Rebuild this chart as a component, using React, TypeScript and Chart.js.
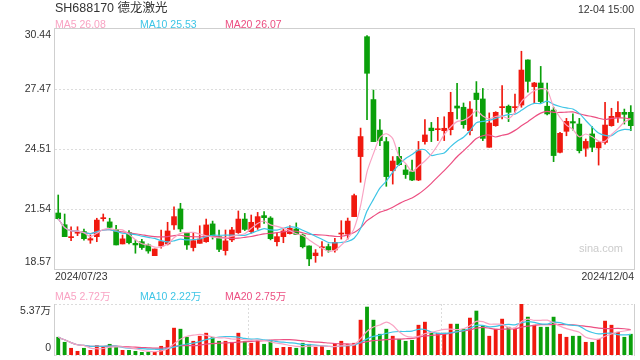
import React, { useEffect, useRef } from 'react';
import { Chart, registerables } from 'chart.js';

Chart.register(...registerables);

// ---- data ----
const tradingDays: [string, number[]][] = [
  ['2024/07', [23, 24, 25, 26, 29, 30, 31]],
  ['2024/08', [1, 2, 5, 6, 7, 8, 9, 12, 13, 14, 15, 16, 19, 20, 21, 22, 23, 26, 27, 28, 29, 30]],
  ['2024/09', [2, 3, 4, 5, 6, 9, 10, 11, 12, 13, 18, 19, 20, 23, 24, 25, 26, 27, 30]],
  ['2024/10', [8, 9, 10, 11, 14, 15, 16, 17, 18, 21, 22, 23, 24, 25, 28, 29, 30, 31]],
  ['2024/11', [1, 4, 5, 6, 7, 8, 11, 12, 13, 14, 15, 18, 19, 20, 21, 22, 25, 26, 27, 28, 29]],
  ['2024/12', [2, 3, 4]],
];
const dates: string[] = tradingDays.flatMap(([m, ds]) => ds.map((d) => `${m}/${String(d).padStart(2, '0')}`));

const opens = [
  21.34, 20.76, 20.12, 20.34, 20.42, 20.0, 20.17, 21.06, 20.9, 20.53,
  19.81, 20.37, 19.84, 19.92, 19.76, 19.23, 19.71, 19.81, 20.75, 21.54,
  20.37, 19.63, 19.84, 19.92, 20.8, 20.17, 19.48, 20.01, 20.37, 21.04,
  20.42, 20.63, 21.21, 21.09, 19.92, 20.17, 20.32, 20.55, 20.25, 19.71,
  19.23, 19.62, 19.68, 19.51, 20.3, 20.3, 21.16, 24.13, 30.06, 26.95,
  25.44, 24.87, 23.43, 24.14, 23.47, 23.38, 22.97, 24.87, 25.54, 25.46,
  25.41, 25.46, 26.63, 26.57, 25.41, 27.27, 26.98, 24.59, 25.66, 26.55,
  26.62, 26.55, 26.68, 28.91, 27.59, 27.77, 26.62, 26.43, 24.34, 25.38,
  25.86, 25.74, 24.54, 25.25, 24.56, 24.83, 25.66, 26.07, 26.32, 26.32,
];
const highs = [
  22.23, 21.29, 20.66, 20.66, 20.55, 20.25, 21.08, 21.29, 21.08, 20.73,
  20.25, 20.47, 20.01, 20.04, 19.81, 19.56, 20.5, 20.88, 21.65, 21.82,
  20.37, 20.37, 20.71, 21.04, 20.94, 20.5, 20.5, 20.63, 21.44, 21.32,
  21.24, 21.37, 21.41, 21.16, 20.34, 20.58, 20.71, 20.85, 20.3, 19.71,
  19.53, 19.92, 19.81, 20.09, 20.96, 21.09, 22.28, 25.54, 30.11, 27.42,
  25.96, 25.08, 24.13, 24.59, 23.71, 23.96, 24.88, 25.96, 25.82, 26.07,
  26.1, 27.31, 27.75, 26.78, 26.85, 27.84, 27.5, 26.29, 26.35, 27.64,
  26.68, 27.22, 29.34, 28.91, 27.8, 28.59, 27.77, 26.57, 25.33, 26.02,
  26.24, 26.02, 25.0, 25.61, 24.87, 26.81, 26.52, 26.85, 26.48, 26.65,
];
const lows = [
  21.04, 20.17, 19.97, 20.22, 19.99, 19.84, 19.92, 20.94, 20.58, 19.76,
  19.81, 19.81, 19.35, 19.54, 19.35, 19.23, 19.6, 19.76, 20.53, 20.42,
  19.54, 19.46, 19.84, 19.89, 20.05, 19.43, 19.26, 19.92, 20.33, 20.47,
  20.34, 20.53, 20.83, 20.01, 19.71, 19.87, 20.3, 20.27, 19.61, 18.73,
  18.9, 19.2, 19.4, 19.4, 20.05, 20.05, 21.16, 22.86, 25.96, 24.87,
  24.67, 22.66, 22.77, 23.7, 23.05, 22.94, 22.94, 24.75, 24.87, 24.92,
  24.92, 25.2, 25.99, 25.53, 25.2, 26.12, 24.92, 24.59, 25.63, 25.99,
  25.86, 26.32, 26.57, 27.31, 26.78, 26.78, 26.19, 23.88, 24.31, 25.16,
  25.44, 24.31, 24.14, 24.37, 23.71, 24.75, 25.63, 25.82, 25.74, 25.41,
];
const closes = [
  21.06, 20.17, 20.15, 20.39, 20.07, 20.07, 20.99, 21.09, 20.63, 19.76,
  20.06, 19.87, 19.76, 19.63, 19.46, 19.56, 19.93, 20.45, 21.16, 20.55,
  19.76, 19.97, 20.05, 20.75, 20.22, 19.54, 19.96, 20.5, 21.04, 20.53,
  20.88, 21.16, 21.11, 20.07, 20.17, 20.45, 20.58, 20.28, 19.67, 19.07,
  19.36, 19.65, 19.51, 19.89, 20.35, 20.94, 22.2, 25.12, 28.25, 24.87,
  24.92, 23.14, 23.91, 23.73, 23.24, 22.97, 24.42, 25.2, 25.41, 25.51,
  25.53, 26.32, 26.53, 25.71, 26.48, 26.95, 25.03, 25.79, 26.32, 26.58,
  26.32, 26.58, 28.41, 27.85, 27.77, 26.85, 26.24, 24.18, 25.28, 25.87,
  25.79, 24.42, 24.88, 24.59, 24.83, 25.69, 26.12, 26.32, 26.22, 25.66,
];
// volume, unit 万 (10k shares)
const volumes = [
  1.87, 1.34, 0.71, 0.39, 0.71, 0.49, 0.99, 0.85, 1.13, 0.85,
  0.49, 0.49, 0.39, 0.28, 0.28, 0.28, 0.92, 1.55, 2.83, 2.72,
  1.87, 1.45, 1.98, 2.3, 1.87, 1.45, 1.45, 1.34, 2.3, 1.41,
  1.24, 1.55, 1.13, 1.55, 0.71, 0.81, 0.81, 0.71, 1.24, 1.13,
  0.81, 0.92, 0.49, 1.13, 1.45, 1.13, 1.24, 3.67, 5.05, 3.67,
  2.19, 2.72, 1.98, 1.66, 1.45, 1.55, 3.14, 3.46, 2.3, 2.3,
  2.3, 3.25, 3.25, 2.72, 3.89, 4.63, 3.04, 1.98, 2.72, 3.78,
  2.93, 2.83, 5.37, 3.99, 3.14, 2.93, 2.93, 3.99, 2.19, 1.87,
  1.98, 1.98, 1.34, 1.34, 1.66, 3.57, 3.14, 2.4, 1.87, 2.19,
];
const priceTicks = [18.57, 21.54, 24.51, 27.47, 30.44];
const volumeTicks = [0, 5.37];
const volumeGridEvery = 30;

const title = 'SH688170 德龙激光';
const timeLabel = '12-04 15:00';
const priceLegend = [
  { name: 'MA5', value: '26.08' },
  { name: 'MA10', value: '25.53' },
  { name: 'MA20', value: '26.07' },
];
const volumeLegend = [
  { name: 'MA5', value: '2.72万' },
  { name: 'MA10', value: '2.22万' },
  { name: 'MA20', value: '2.75万' },
];

// ---- styles ----
const UP = '#f0190f';
const DOWN = '#0aa00a';
const MA_COLORS = ['#f9a3c3', '#3ec5e6', '#ec4f82'];
const FONT = '"Liberation Sans", Arial, "Noto Sans CJK SC", sans-serif';
const GRID = '#dcdcdc';
const BORDER = '#cfcfcf';

function movingAverage(values: number[], n: number): number[] {
  return values.map((_, i) => {
    const start = Math.max(0, i - n + 1);
    let s = 0;
    for (let k = start; k <= i; k++) s += values[k];
    return s / (i - start + 1);
  });
}

const colors = opens.map((o, i) => (closes[i] >= o ? UP : DOWN));

function maDatasets(values: number[]) {
  return [5, 10, 20].map((n, k) => ({
    type: 'line' as const,
    data: movingAverage(values, n),
    borderColor: MA_COLORS[k],
    borderWidth: 1.2,
    pointRadius: 0,
    tension: 0.25,
    order: 0,
  }));
}

export default function App() {
  const mainRef = useRef<HTMLCanvasElement>(null);
  const volRef = useRef<HTMLCanvasElement>(null);

  useEffect(() => {
    const framePlugin = {
      id: 'priceFrame',
      beforeDatasetsDraw(chart: any) {
        const { ctx, chartArea: a, scales } = chart;
        const y = scales.y;
        ctx.save();
        ctx.lineWidth = 1;
        ctx.strokeStyle = GRID;
        ctx.setLineDash([2, 2]);
        priceTicks.slice(1, -1).forEach((v) => {
          const py = Math.round(y.getPixelForValue(v)) + 0.5;
          ctx.beginPath();
          ctx.moveTo(a.left, py);
          ctx.lineTo(a.right, py);
          ctx.stroke();
        });
        ctx.setLineDash([]);
        ctx.strokeStyle = BORDER;
        ctx.strokeRect(a.left - 0.5, a.top - 0.5, a.right - a.left + 1, a.bottom - a.top + 1);
        ctx.restore();
      },
      afterDraw(chart: any) {
        const { ctx, chartArea: a, scales } = chart;
        const y = scales.y;
        ctx.save();
        ctx.font = `10.5px ${FONT}`;
        ctx.fillStyle = '#333';
        ctx.textAlign = 'right';
        ctx.textBaseline = 'middle';
        const min = priceTicks[0];
        const max = priceTicks[priceTicks.length - 1];
        priceTicks.forEach((v) => {
          let py = y.getPixelForValue(v);
          if (v === max) py += 6;
          if (v === min) py -= 7;
          ctx.fillText(v.toFixed(2), a.left - 4, py);
        });
        ctx.textAlign = 'left';
        ctx.fillText(dates[0], a.left, a.bottom + 8);
        ctx.textAlign = 'right';
        ctx.fillText(dates[dates.length - 1], a.right, a.bottom + 8);
        ctx.fillStyle = '#cccccc';
        ctx.font = `11px ${FONT}`;
        ctx.fillText('sina.com', a.right - 11, a.bottom - 20);
        ctx.restore();
      },
    };

    const volFramePlugin = {
      id: 'volFrame',
      beforeDatasetsDraw(chart: any) {
        const { ctx, chartArea: a, scales } = chart;
        const x = scales.x;
        ctx.save();
        ctx.lineWidth = 1;
        ctx.strokeStyle = GRID;
        ctx.setLineDash([2, 2]);
        [a.top, a.bottom].forEach((yy: number) => {
          const py = Math.round(yy) + 0.5;
          ctx.beginPath();
          ctx.moveTo(a.left, py);
          ctx.lineTo(a.right, py);
          ctx.stroke();
        });
        for (let i = volumeGridEvery; i < dates.length; i += volumeGridEvery) {
          const px = Math.round((x.getPixelForValue(i - 1) + x.getPixelForValue(i)) / 2) + 0.5;
          ctx.beginPath();
          ctx.moveTo(px, a.top);
          ctx.lineTo(px, a.bottom);
          ctx.stroke();
        }
        ctx.setLineDash([]);
        ctx.strokeStyle = BORDER;
        ctx.beginPath();
        ctx.moveTo(a.left - 0.5, a.top);
        ctx.lineTo(a.left - 0.5, a.bottom + 1);
        ctx.moveTo(a.right + 0.5, a.top);
        ctx.lineTo(a.right + 0.5, a.bottom + 1);
        ctx.stroke();
        ctx.restore();
      },
      afterDraw(chart: any) {
        const { ctx, chartArea: a, scales } = chart;
        const y = scales.y;
        ctx.save();
        ctx.font = `10.5px ${FONT}`;
        ctx.fillStyle = '#333';
        ctx.textAlign = 'right';
        ctx.textBaseline = 'middle';
        ctx.fillText(volumeTicks[1].toFixed(2) + '万', a.left - 4, y.getPixelForValue(volumeTicks[1]) + 7);
        ctx.fillText(String(volumeTicks[0]), a.left - 4, y.getPixelForValue(volumeTicks[0]) - 7);
        ctx.restore();
      },
    };

    const common = {
      animation: false as const,
      responsive: false,
      maintainAspectRatio: false,
      events: [] as any[],
      plugins: { legend: { display: false }, tooltip: { enabled: false } },
    };

    const main = new Chart(mainRef.current!, {
      type: 'bar',
      data: {
        labels: dates,
        datasets: [
          ...maDatasets(closes),
          {
            type: 'bar' as const,
            data: opens.map((o, i) => [o, closes[i]]) as any,
            backgroundColor: colors,
            barThickness: 5,
            minBarLength: 1,
            grouped: false,
            order: 2,
          },
          {
            type: 'bar' as const,
            data: lows.map((l, i) => [l, highs[i]]) as any,
            backgroundColor: colors,
            barThickness: 1,
            grouped: false,
            order: 3,
          },
        ] as any,
      },
      options: {
        ...common,
        layout: { padding: { left: 55, right: 6, top: 29, bottom: 91 } },
        scales: {
          x: { type: 'category', display: false, offset: true },
          y: { display: false, min: priceTicks[0], max: priceTicks[priceTicks.length - 1] },
        },
      } as any,
      plugins: [framePlugin],
    });

    const vol = new Chart(volRef.current!, {
      type: 'bar',
      data: {
        labels: dates,
        datasets: [
          ...maDatasets(volumes),
          {
            type: 'bar' as const,
            data: volumes,
            backgroundColor: colors,
            barThickness: 3.2,
            grouped: false,
            order: 2,
          },
        ] as any,
      },
      options: {
        ...common,
        layout: { padding: { left: 55, right: 6, top: 304, bottom: 5 } },
        scales: {
          x: { type: 'category', display: false, offset: true },
          y: { display: false, min: volumeTicks[0], max: volumeTicks[1] },
        },
      } as any,
      plugins: [volFramePlugin],
    });

    return () => {
      main.destroy();
      vol.destroy();
    };
  }, []);

  const textBase: React.CSSProperties = {
    position: 'absolute',
    fontFamily: FONT,
    whiteSpace: 'nowrap',
    height: 14,
    lineHeight: '14px',
  };

  return (
    <div style={{ position: 'absolute', left: 0, top: 0, width: 640, height: 360, background: '#fff', overflow: 'hidden' }}>
      <canvas ref={mainRef} width={640} height={360} style={{ position: 'absolute', left: 0, top: 0, width: 640, height: 360 }} />
      <canvas ref={volRef} width={640} height={360} style={{ position: 'absolute', left: 0, top: 0, width: 640, height: 360 }} />
      <div style={{ ...textBase, left: 55, top: 0.5, fontSize: 12.5, color: '#333' }}>{title}</div>
      <div style={{ ...textBase, right: 6, top: 1.5, fontSize: 10.5, color: '#333' }}>{timeLabel}</div>
      {priceLegend.map((l, k) => (
        <div key={'p' + k} style={{ ...textBase, left: 55 + k * 85, top: 17, fontSize: 10.5, color: MA_COLORS[k] }}>
          {l.name} {l.value}
        </div>
      ))}
      {volumeLegend.map((l, k) => (
        <div key={'v' + k} style={{ ...textBase, left: 55 + k * 85, top: 288.5, fontSize: 10.5, color: MA_COLORS[k] }}>
          {l.name} {l.value}
        </div>
      ))}
    </div>
  );
}
